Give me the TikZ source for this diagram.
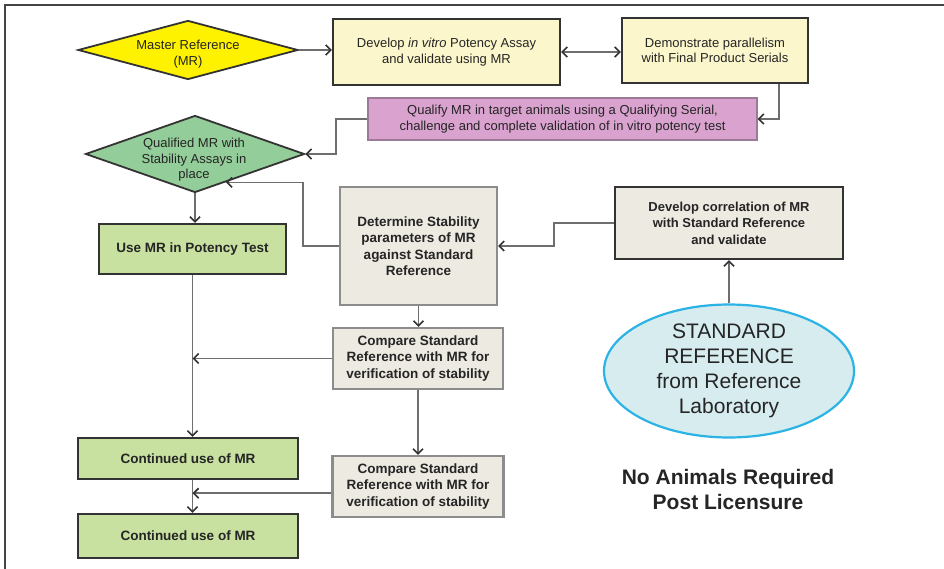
\documentclass[tikz,border=0pt]{standalone}
\usepackage{fontspec}
\setmainfont{Liberation Sans}
\usetikzlibrary{shapes.geometric,arrows.meta,calc}
\definecolor{txtc}{HTML}{252525}
\definecolor{darkb}{HTML}{333333}
\definecolor{grayb}{HTML}{8C8C8C}
\definecolor{linec}{HTML}{6E6E6E}
\definecolor{yellowf}{HTML}{FFF200}
\definecolor{creamf}{HTML}{FBF6CB}
\definecolor{pinkf}{HTML}{D9A2CF}
\definecolor{pinkb}{HTML}{9A7A96}
\definecolor{greendf}{HTML}{93CD99}
\definecolor{greenf}{HTML}{C8E0A0}
\definecolor{beigef}{HTML}{ECEAE1}
\definecolor{ellf}{HTML}{D6ECEF}
\definecolor{ellb}{HTML}{2BB3E6}
\definecolor{framec}{HTML}{444444}
\tikzset{
  base/.style={inner sep=2pt, align=center, text=txtc, font=\fontsize{13}{15.5}\selectfont},
  boldbase/.style={base, font=\fontsize{13.5}{16.5}\selectfont\bfseries},
  creambox/.style={base, rectangle, fill=creamf, draw=darkb, line width=2.4pt},
  pinkbox/.style={base, rectangle, fill=pinkf, draw=pinkb, line width=1.4pt},
  greenbox/.style={boldbase, rectangle, fill=greenf, draw=darkb, line width=2.4pt},
  beigebox/.style={boldbase, rectangle, fill=beigef, draw=grayb, line width=2.2pt},
  beigedark/.style={boldbase, rectangle, fill=beigef, draw=darkb, line width=2.4pt},
  dia/.style={diamond, inner sep=0pt, draw=darkb, line width=1.8pt},
  txt/.style={base, inner sep=0pt},
  tip/.style={},
  arr/.style={draw=linec, line width=1.7pt, -{Straight Barb[length=5pt,width=10pt,line width=1.6pt,color=darkb]}},
  darr/.style={draw=linec, line width=1.7pt, {Straight Barb[length=5pt,width=10pt,line width=1.6pt,color=darkb]}-{Straight Barb[length=5pt,width=10pt,line width=1.6pt,color=darkb]}}
}
\begin{document}
\begin{tikzpicture}[x=1pt,y=-1pt]
\useasboundingbox[fill=white] (0,0) rectangle (944,569);
% frame (top and left)
\draw[framec, line width=1.6pt] (944,5) -- (5,5) -- (5,569);

% diamonds
\node[dia, fill=yellowf, minimum width=220pt, minimum height=59pt] (mr) at (188,50) {};
\node[txt] (mrt) at (188,54) {Master Reference\\(MR)};
\node[dia, fill=greendf, minimum width=219pt, minimum height=77pt] (qd) at (195,154) {};
\node[txt] (qdt) at (194,160) {Qualified MR with\\Stability Assays in\\place};

% top boxes
\node[creambox, minimum width=227pt, minimum height=66pt] (dev) at (446.5,52) {Develop \textit{in vitro} Potency Assay\\and validate using MR};
\node[creambox, minimum width=186pt, minimum height=65pt] (dem) at (715,50.5) {Demonstrate parallelism\\with Final Product Serials};
\node[pinkbox, minimum width=389pt, minimum height=42pt] (qual) at (562.5,119) {Qualify MR in target animals using a Qualifying Serial,\\challenge and complete validation of in vitro potency test};

% left column
\node[greenbox, minimum width=187pt, minimum height=50pt] (use) at (192.5,249) {Use MR in Potency Test};
\node[greenbox, minimum width=220pt, minimum height=41pt] (c1) at (188,458.5) {Continued use of MR};
\node[greenbox, minimum width=220pt, minimum height=44pt] (c2) at (188,536) {Continued use of MR};

% middle column
\node[beigebox, minimum width=157pt, minimum height=118pt] (det) at (418.5,246) {Determine Stability\\parameters of MR\\against Standard\\Reference};
\node[beigebox, minimum width=170pt, minimum height=61pt] (cmp1) at (418,358.5) {Compare Standard\\Reference with MR for\\verification of stability};
\node[beigebox, minimum width=171pt, minimum height=61pt] (cmp2) at (418,486.5) {Compare Standard\\Reference with MR for\\verification of stability};

% right column
\node[beigedark, minimum width=228pt, minimum height=72pt, font=\fontsize{13}{16.5}\selectfont\bfseries] (dc) at (729,223) {Develop correlation of MR\\with Standard Reference\\and validate};
\node[ellipse, fill=ellf, draw=ellb, line width=2.2pt, minimum width=250pt, minimum height=128pt, inner sep=0pt, align=center, text=txtc, font=\fontsize{21}{25}\selectfont] (ell) at (729,371) {STANDARD\\REFERENCE\\from Reference\\Laboratory};
\node[txt, font=\fontsize{21}{25}\selectfont\bfseries] (note) at (728,489.5) {No Animals Required\\Post Licensure};

% connectors
\draw[arr] (mr.east) -- (mr.east -| dev.west);
\draw[darr] (dev.east) -- (dev.east -| dem.west);
\coordinate (demout) at ($(dem.south east)+(-30,0)$);
\draw[arr] (demout) |- (qual.east);
\draw[arr] (qual.west) -- ++(-31,0) |- (qd.east);
\coordinate (qdin) at ($(qd.east)!0.72!(qd.south)$);
\draw[arr] (det.west) -- ++(-36,0) |- (qdin);
\draw[arr] (qd.south) -- (qd.south |- use.north);
\draw[arr] (use.south) -- (use.south |- c1.north);
\draw[arr] (det.south) -- (det.south |- cmp1.north);
\draw[arr] (cmp1.south) -- (cmp1.south |- cmp2.north);
\draw[arr] (cmp1.west) -- (cmp1.west -| use.south);
\coordinate (c1b) at (use.south |- c1.south);
\coordinate (c2t) at (use.south |- c2.north);
\coordinate (mid) at ($(c1b)!0.4!(c2t)$);
\draw[arr] (c1b) -- (c2t);
\draw[arr] (mid -| cmp2.west) -- (mid);
\draw[arr] (dc.west) -- ++(-60,0) |- (det.east);
\draw[arr] (ell.north) -- (ell.north |- dc.south);
\end{tikzpicture}
\end{document}
